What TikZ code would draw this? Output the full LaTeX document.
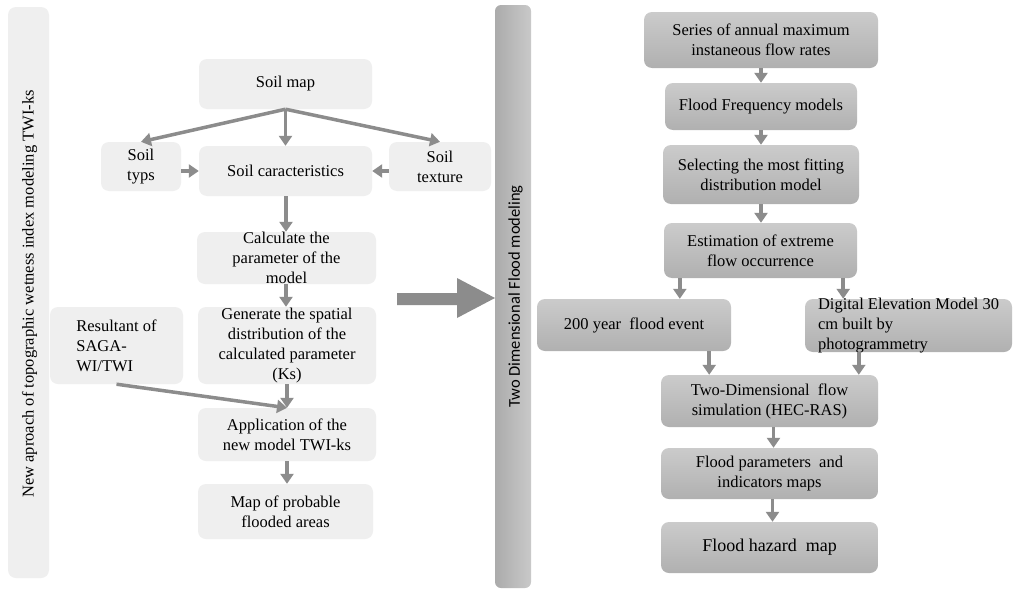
\documentclass[tikz,border=0pt]{standalone}
\usepackage{fontspec}
\setmainfont{Liberation Serif}
\newfontfamily\calibrifont{Carlito}
\usetikzlibrary{arrows.meta}
\definecolor{lboxc}{HTML}{EFEFEF}
\definecolor{arrg}{HTML}{8C8C8C}
\definecolor{rtop}{HTML}{CBCBCB}
\definecolor{rbot}{HTML}{B0B0B0}
\definecolor{barl}{HTML}{ABABAB}
\definecolor{barr}{HTML}{C9C9C9}
\tikzset{
  txtfont/.style={font=\fontsize{16.5}{20}\selectfont},
  lightbox/.style={rectangle, rounded corners=8pt, fill=lboxc, inner sep=0pt, align=center, txtfont},
  darkbox/.style={rectangle, rounded corners=8pt, top color=rtop, bottom color=rbot, inner sep=0pt, align=center, txtfont},
  arr/.style={draw=arrg, line width=3.5pt, -{Triangle[length=10pt,width=13pt]}},
}
\begin{document}
\begin{tikzpicture}[x=1pt,y=-1pt]
\fill[white] (0,0) rectangle (1025,589);
\useasboundingbox (0,0) rectangle (1025,589);

% left panel bar
\node[rectangle, rounded corners=8pt, fill=lboxc, minimum width=41pt, minimum height=571pt, inner sep=0pt] (lbar) at (28.5,292.5) {};
\node[rotate=90, txtfont, inner sep=0pt] (lbartxt) at (29.5,294) {New aproach of topographic wetness index modeling TWI-ks};

% right panel bar
\node[rectangle, rounded corners=6pt, left color=barl, right color=barr, minimum width=36pt, minimum height=583pt, inner sep=0pt] (rbar) at (513,296.5) {};
\node[rotate=90, font=\calibrifont\fontsize{16.5}{20}\selectfont, inner sep=0pt] (rbartxt) at (515.5,296.5) {Two Dimensional Flood modeling};

% big arrow
\fill[arrg] (397,293) -- (457,293) -- (457,278) -- (495,298) -- (457,318) -- (457,305) -- (397,305) -- cycle;

% left nodes
\node[lightbox, minimum width=173pt, minimum height=50pt] (soilmap) at (285.5,84) {Soil map};
\node[lightbox, minimum width=80pt, minimum height=49pt] (soiltyps) at (141,166.5) {Soil\\typs};
\node[lightbox, minimum width=173pt, minimum height=50pt] (soilchar) at (285.5,171) {Soil caracteristics};
\node[lightbox, minimum width=102pt, minimum height=49pt] (soiltex) at (440,166.5) {Soil\\texture};
\node[lightbox, minimum width=179pt, minimum height=52pt] (calc) at (286.5,258)
  {\parbox[c][52pt][c]{179pt}{\centerline{Calculate the}\centerline{parameter of the}\centerline{model}}};
\node[lightbox, minimum width=178pt, minimum height=77pt] (gen) at (287,345.5)
  {Generate the spatial\\distribution of the\\calculated parameter\\(Ks)};
\node[lightbox, minimum width=133pt, minimum height=77pt] (result) at (116.5,345.5)
  {\parbox[c][77pt][c]{101pt}{\hbox{Resultant of}\hbox{SAGA-}\hbox{WI/TWI}}};
\node[lightbox, minimum width=178pt, minimum height=53pt] (app) at (287,434.5) {Application of the\\new model TWI-ks};
\node[lightbox, minimum width=175pt, minimum height=55pt] (map) at (285.5,511.5) {Map of probable\\flooded areas};

% left connectors
\draw[arr] (soilmap.south) -- (soilchar.north);
\draw[arr] (soilmap.south) -- (soiltyps.north);
\draw[arr] (soilmap.south) -- (soiltex.north);
\draw[arr] (soiltyps.east |- soilchar.west) -- (soilchar.west);
\draw[arr] (soiltex.west |- soilchar.east) -- (soilchar.east);
\draw[arr] ([xshift=0.5pt]soilchar.south) -- ([xshift=0.5pt]soilchar.south |- calc.north);
\draw[arr] ([xshift=-0.5pt]calc.south) -- ([xshift=-0.5pt]calc.south |- gen.north);
\draw[arr] (gen.south) -- (gen.south |- app.north);
\draw[arr] (result.south) -- (app.north);
\draw[arr] (app.south) -- (app.south |- map.north);

% right nodes
\node[darkbox, minimum width=234pt, minimum height=56pt] (series) at (761,40) {Series of annual maximum\\instaneous flow rates};
\node[darkbox, minimum width=192pt, minimum height=47pt] (ff) at (761,106.5) {Flood Frequency models};
\node[darkbox, minimum width=196pt, minimum height=59pt] (sel) at (761,174.5) {Selecting the most fitting\\distribution model};
\node[darkbox, minimum width=193pt, minimum height=55pt] (est) at (760.5,250.5) {Estimation of extreme\\flow occurrence};
\node[darkbox, minimum width=194pt, minimum height=52pt] (y200) at (634,325) {200 year\ \ flood event};
\node[darkbox, minimum width=207pt, minimum height=53pt] (dem) at (908.5,325.5)
  {\parbox[c][53pt][c]{179pt}{\hbox{Digital Elevation Model 30}\hbox{cm built by}\hbox{photogrammetry}}};
\node[darkbox, minimum width=217pt, minimum height=52pt] (twod) at (769.5,401) {Two-Dimensional\ \ flow\\simulation (HEC-RAS)};
\node[darkbox, minimum width=217pt, minimum height=51pt] (fp) at (769.5,473.5) {Flood parameters\ \ and\\indicators maps};
\node[darkbox, minimum width=217pt, minimum height=51pt, font=\fontsize{18}{22}\selectfont] (fh) at (769.5,547.5) {Flood hazard\ \ map};

% right connectors
\draw[arr] (series.south) -- (ff.north);
\draw[arr] (ff.south) -- (sel.north);
\draw[arr] (sel.south) -- (sel.south |- est.north);
\draw[arr] ([xshift=16pt]est.south west) -- ([xshift=16pt]est.south west |- y200.north);
\draw[arr] ([xshift=-14pt]est.south east) -- ([xshift=-14pt]est.south east |- dem.north);
\draw[arr] ([xshift=-22pt]y200.south east) -- ([xshift=-22pt]y200.south east |- twod.north);
\draw[arr] ([xshift=54pt]dem.south west) -- ([xshift=54pt]dem.south west |- twod.north);
\draw[arr] ([xshift=4pt]twod.south) -- ([xshift=4pt]fp.north);
\draw[arr] ([xshift=3pt]fp.south) -- ([xshift=3pt]fh.north);
\end{tikzpicture}
\end{document}
